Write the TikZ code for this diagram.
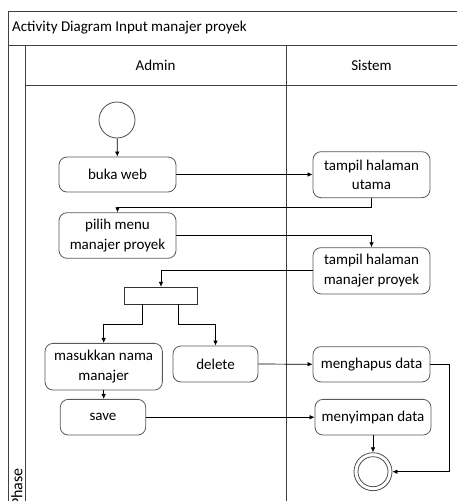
\documentclass[tikz,border=0pt]{standalone}
\usepackage{fontspec}
\setmainfont{Carlito}
\usetikzlibrary{arrows.meta}
\begin{document}
\begin{tikzpicture}[x=1pt,y=-1pt,
  lane/.style={draw=black!75,line width=0.8pt},
  act/.style={draw=black!65,line width=0.8pt,rounded corners=8pt,align=center,inner sep=0pt,
    font=\fontsize{15}{19.5}\selectfont},
  flow/.style={draw=black,line width=0.7pt,-{Latex[length=5pt,width=4.5pt]}},
  txt/.style={font=\fontsize{15}{19.5}\selectfont,inner sep=0pt}]
\useasboundingbox (0,0) rectangle (457,501);
% frame
\draw[lane] (457,11) -- (8,11) -- (8,510);
\draw[lane] (8,45) -- (457,45);
\draw[lane] (25,45) -- (25,510);
\draw[lane] (25,85) -- (457,85);
\draw[lane] (286,45) -- (286,510);
\node[txt,anchor=west] (title) at (12,28) {Activity Diagram Input manajer proyek};
\node[txt] (admin) at (155.5,65) {Admin};
\node[txt] (sistem) at (371.5,65) {Sistem};
\node[txt,rotate=90,anchor=east,font=\fontsize{16}{19.5}\selectfont] (phase) at (17,468) {Phase};
% nodes
\node[draw=black!70,line width=0.8pt,circle,minimum size=36pt,inner sep=0pt] (start) at (117,120) {};
\node[act,minimum width=117pt,minimum height=35pt] (buka) at (117.5,174.5) {buka web};
\node[act,minimum width=117pt,minimum height=46pt] (tampil1) at (371.5,174.7) {tampil halaman\\utama};
\node[act,minimum width=117pt,minimum height=45.6pt] (pilih) at (117.5,235.5) {pilih menu\\manajer proyek};
\node[act,minimum width=117pt,minimum height=46.3pt] (tampil2) at (371.5,270.8) {tampil halaman\\manajer proyek};
\node[draw=black!80,line width=0.8pt,minimum width=72.6pt,minimum height=16.7pt,inner sep=0pt] (fork) at (161,295.6) {};
\node[act,minimum width=117.3pt,minimum height=46.7pt] (masuk) at (103.7,366.7) {masukkan nama\\manajer};
\node[act,minimum width=85pt,minimum height=36pt] (delete) at (215.5,364) {delete};
\node[act,minimum width=117pt,minimum height=35.3pt] (hapus) at (371.5,364.3) {menghapus data};
\node[act,minimum width=85.4pt,minimum height=35.7pt] (save) at (103,417.2) {save};
\node[act,minimum width=116pt,minimum height=35.7pt] (simpan) at (373,417.2) {menyimpan data};
\node[draw=black!70,line width=0.8pt,circle,minimum size=38pt,inner sep=0pt] (end) at (373,471.7) {};
\node[draw=black!70,line width=0.8pt,circle,minimum size=30pt,inner sep=0pt] (endin) at (373,471.7) {};
% connectors
\draw[flow] (start) -- (buka);
\draw[flow] (buka.east) -- (tampil1.west |- buka.east);
\draw[flow] (tampil1.south) -- (371.5,207.3) -| (pilih.north);
\draw[flow] (pilih.east) -| (tampil2.north);
\draw[flow] (tampil2.west) -| (fork.north);
\draw[flow] (142.7,303.95) -- (142.7,324) -| (masuk.north);
\draw[flow] (178.7,303.95) -- (178.7,324) -| (delete.north);
\draw[flow] (masuk.south) -- (masuk.south |- save.north);
\draw[flow] (delete.east) -- (hapus.west);
\draw[flow] (save.east) -- (simpan.west);
\draw[flow] (simpan.south) -- (end.north);
\draw[flow] (hapus.east) -- (449,364.3) |- (end.east);
\end{tikzpicture}
\end{document}
